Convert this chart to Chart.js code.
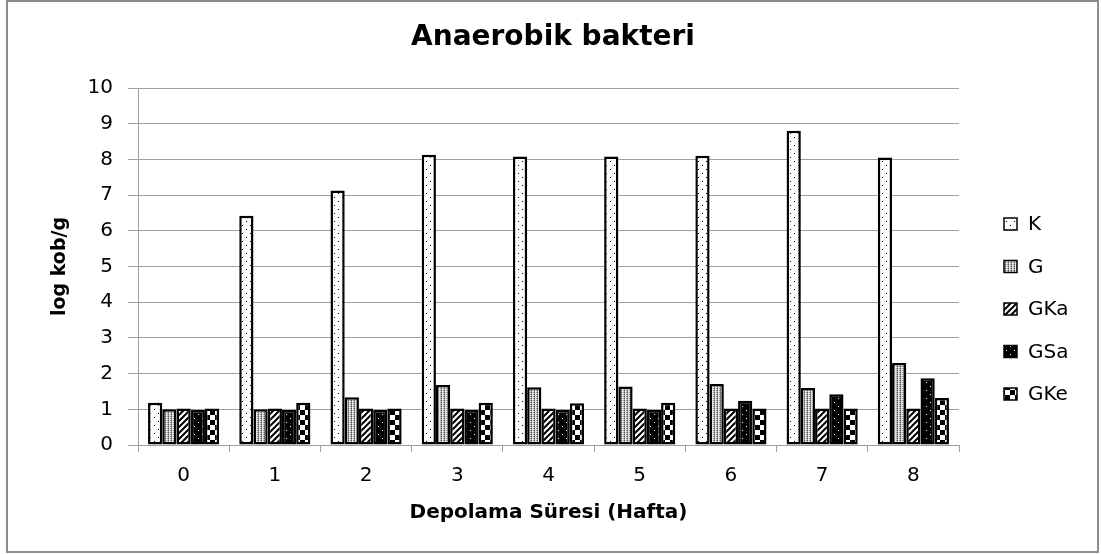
<!DOCTYPE html>
<html>
<head>
<meta charset="utf-8">
<title>Anaerobik bakteri</title>
<script src="https://cdn.jsdelivr.net/npm/chart.js@4/dist/chart.umd.min.js"></script>
<style>
  html, body { margin: 0; padding: 0; background: #fff; }
  #wrap { width: 1101px; height: 554px; }
</style>
</head>
<body>
<div id="wrap"><canvas id="chart" width="1101" height="554"></canvas></div>
<script>
var chartTitle = 'Anaerobik bakteri';
var xTitle = 'Depolama Süresi (Hafta)';
var yTitle = 'log kob/g';
var weeks = ['0', '1', '2', '3', '4', '5', '6', '7', '8'];
var seriesNames = ['K', 'G', 'GKa', 'GSa', 'GKe'];
var K   = [1.18, 6.42, 7.13, 8.13, 8.08, 8.08, 8.10, 8.80, 8.05];
var G   = [1.00, 1.00, 1.34, 1.68, 1.62, 1.64, 1.71, 1.60, 2.30];
var GKa = [1.02, 1.02, 1.02, 1.02, 1.02, 1.02, 1.02, 1.02, 1.02];
var GSa = [0.98, 0.98, 0.98, 0.98, 0.98, 0.98, 1.24, 1.42, 1.87];
var GKe = [1.02, 1.18, 1.02, 1.18, 1.17, 1.18, 1.02, 1.02, 1.32];
var yTicks = [0, 1, 2, 3, 4, 5, 6, 7, 8, 9, 10];

var FONT = "'DejaVu Sans', sans-serif";

// small tiles for the black & white fills
function makePattern(w, h, paint) {
  var c = document.createElement('canvas');
  c.width = w; c.height = h;
  var g = c.getContext('2d');
  paint(g, w, h);
  return g.createPattern(c, 'repeat');
}

var patK = makePattern(8, 8, function(g) {
  g.fillStyle = '#fff'; g.fillRect(0, 0, 8, 8);
  g.fillStyle = '#000';
  g.fillRect(2, 1, 1, 1);
  g.fillRect(6, 5, 1, 1);
});
var patG = makePattern(3, 2, function(g) {
  g.fillStyle = '#e6e6e6'; g.fillRect(0, 0, 3, 2);
  g.fillStyle = '#555'; g.fillRect(0, 0, 1, 1);
  g.fillStyle = '#999'; g.fillRect(0, 1, 1, 1); g.fillRect(2, 0, 1, 1);
});
var patGKa = makePattern(6, 6, function(g) {
  g.fillStyle = '#fff'; g.fillRect(0, 0, 6, 6);
  g.strokeStyle = '#000'; g.lineWidth = 2;
  g.beginPath();
  g.moveTo(-1, 7); g.lineTo(7, -1);
  g.moveTo(-4, 4); g.lineTo(4, -4);
  g.moveTo(2, 10); g.lineTo(10, 2);
  g.stroke();
});
var patGSa = makePattern(8, 8, function(g) {
  g.fillStyle = '#000'; g.fillRect(0, 0, 8, 8);
  g.fillStyle = '#fff';
  g.fillRect(2, 2, 1, 1);
  g.fillRect(6, 6, 1, 1);
});
var patGKe = makePattern(10, 10, function(g) {
  g.fillStyle = '#fff'; g.fillRect(0, 0, 10, 10);
  g.fillStyle = '#000';
  g.fillRect(0, 0, 5, 5);
  g.fillRect(5, 5, 5, 5);
});

var seriesData = [K, G, GKa, GSa, GKe];
var fills = [patK, patG, patGKa, patGSa, patGKe];

var datasets = seriesNames.map(function(name, i) {
  return {
    label: name,
    data: seriesData[i],
    backgroundColor: fills[i],
    borderColor: '#000',
    borderWidth: 2.5,
    borderSkipped: false,
    barPercentage: 1.0,
    categoryPercentage: 0.78
  };
});

// title, legend and outer frame
var decor = {
  id: 'decor',
  afterDraw: function(chart) {
    var ctx = chart.ctx;
    ctx.save();
    ctx.strokeStyle = '#8c8c8c';
    ctx.lineWidth = 2;
    ctx.strokeRect(7, 1, 1091, 551);

    ctx.fillStyle = '#000';
    ctx.font = 'bold 28px ' + FONT;
    ctx.textAlign = 'center';
    ctx.textBaseline = 'middle';
    ctx.fillText(chartTitle, 553, 38);

    ctx.font = '20px ' + FONT;
    ctx.textAlign = 'left';
    chart.data.datasets.forEach(function(ds, i) {
      var y = 224 + i * 42.5;
      ctx.fillStyle = ds.backgroundColor;
      ctx.fillRect(1004, y - 6, 13, 12);
      ctx.strokeStyle = '#000';
      ctx.lineWidth = 1.5;
      ctx.strokeRect(1004, y - 6, 13, 12);
      ctx.fillStyle = '#000';
      ctx.fillText(ds.label, 1028, y + 1);
    });
    ctx.restore();
  }
};

new Chart(document.getElementById('chart'), {
  type: 'bar',
  data: { labels: weeks, datasets: datasets },
  plugins: [decor],
  options: {
    responsive: false,
    animation: false,
    layout: { padding: { left: 8, top: 88, right: 142, bottom: 8 } },
    plugins: {
      legend: { display: false },
      title: { display: false },
      tooltip: { enabled: false }
    },
    scales: {
      x: {
        afterFit: function(s) { s.height = 101; },
        grid: { display: true, drawOnChartArea: false, color: '#a0a0a0', tickLength: 7, offset: true },
        border: { color: '#a0a0a0', width: 1 },
        ticks: { color: '#000', font: { family: FONT, size: 20 }, padding: 12 },
        title: {
          display: true, text: xTitle, color: '#000',
          font: { family: FONT, size: 20, weight: 'bold' },
          padding: { top: 0, bottom: 21 }
        }
      },
      y: {
        min: 0, max: 10,
        afterFit: function(s) { s.width = 130; },
        afterBuildTicks: function(s) { s.ticks = yTicks.map(function(v) { return { value: v }; }); },
        grid: { color: '#a0a0a0', tickLength: 10 },
        border: { color: '#a0a0a0', width: 1 },
        ticks: { color: '#000', font: { family: FONT, size: 20 }, padding: 15 },
        title: {
          display: true, text: yTitle, color: '#000',
          font: { family: FONT, size: 19, weight: 'bold' },
          padding: { top: 41, bottom: 0 }
        }
      }
    }
  }
});
</script>
</body>
</html>
